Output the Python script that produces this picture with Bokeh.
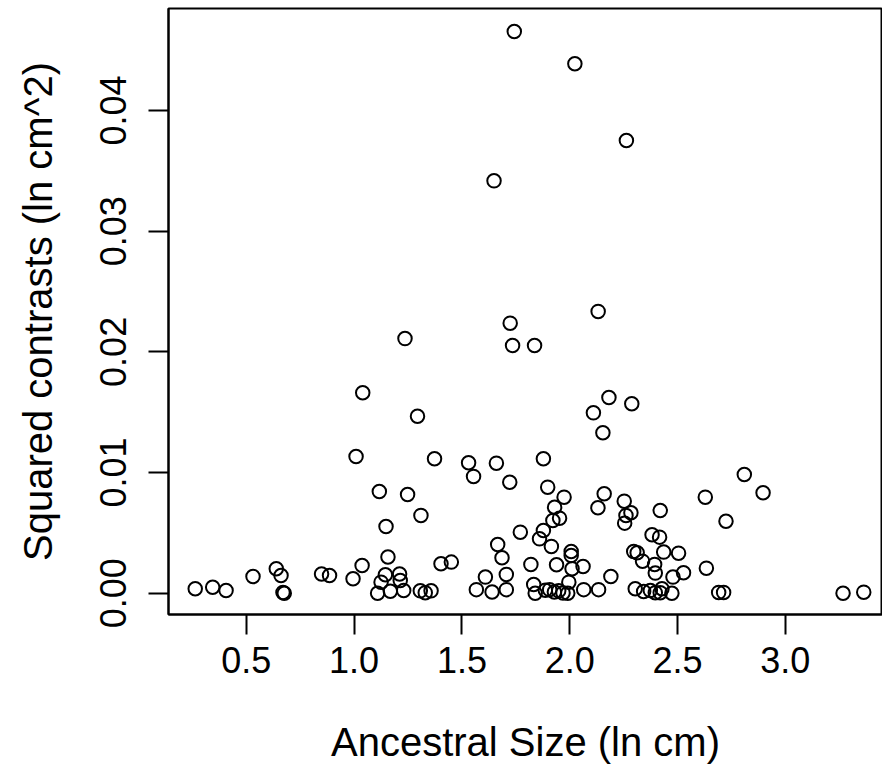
from bokeh.plotting import figure
from bokeh.models import Range1d, FixedTicker
from bokeh.embed import file_html
from bokeh.resources import INLINE

# Ancestral size (ln cm) and squared contrasts (ln cm^2)
ancestral_size = [
    1.743, 2.024, 2.263, 1.649, 2.132, 1.724, 1.236, 1.735, 1.837, 1.040,
    2.182, 2.288, 2.110, 1.294, 2.154,
    1.009, 1.373, 1.878, 1.531, 1.660, 1.554, 2.810, 1.722, 1.898, 1.117,
    2.897, 2.160, 1.248, 1.974, 2.629, 2.253, 1.930, 2.131, 2.420, 2.284,
    2.261, 1.310, 1.953, 1.922, 2.725, 2.255, 1.148, 1.878, 1.771, 2.382,
    2.417, 1.860, 1.666, 1.915, 2.297, 2.007, 2.436, 2.313, 2.505, 2.007,
    1.157, 1.686, 2.338, 1.451, 1.403, 2.394, 1.820, 1.939, 1.037, 2.062,
    2.634, 0.639, 2.011, 2.528, 2.397, 0.849, 1.211, 1.706, 1.145, 0.661,
    0.886, 0.531, 2.191, 2.479, 1.609, 0.995, 1.214, 1.125, 1.996, 1.833,
    0.344, 0.263,
    0.406, 0.670, 0.676, 1.109, 1.168, 1.230, 1.307, 1.330, 1.357, 1.567,
    1.640, 1.706, 1.840, 1.887, 1.907, 1.929, 1.949, 1.969, 1.991, 2.065,
    2.134, 2.304, 2.343, 2.374, 2.397, 2.420, 2.428, 2.474, 2.691, 2.714,
    3.268, 3.364,
]
squared_contrasts = [
    0.04654, 0.04387, 0.03751, 0.03417, 0.02335, 0.02238, 0.02110, 0.02053, 0.02053, 0.01661,
    0.01622, 0.01570, 0.01495, 0.01467, 0.01330,
    0.01133, 0.01114, 0.01114, 0.01081, 0.01078, 0.00968, 0.00984, 0.00920, 0.00879, 0.00843,
    0.00833, 0.00824, 0.00818, 0.00796, 0.00796, 0.00763, 0.00713, 0.00708, 0.00686, 0.00667,
    0.00645, 0.00645, 0.00622, 0.00603, 0.00597, 0.00581, 0.00553, 0.00520, 0.00506, 0.00485,
    0.00465, 0.00451, 0.00404, 0.00388, 0.00346, 0.00346, 0.00341, 0.00336, 0.00332, 0.00313,
    0.00300, 0.00294, 0.00266, 0.00258, 0.00244, 0.00239, 0.00239, 0.00236, 0.00230, 0.00222,
    0.00208, 0.00203, 0.00203, 0.00170, 0.00167, 0.00160, 0.00160, 0.00156, 0.00153, 0.00147,
    0.00147, 0.00139, 0.00139, 0.00134, 0.00134, 0.00120, 0.00106, 0.00092, 0.00092, 0.00073,
    0.00050, 0.00037,
    0.00023, 0.00007, 0.00000, 0.00000, 0.00017, 0.00023, 0.00020, 0.00005, 0.00020, 0.00030,
    0.00010, 0.00030, 0.00000, 0.00025, 0.00030, 0.00010, 0.00020, 0.00003, 0.00000, 0.00030,
    0.00030, 0.00037, 0.00015, 0.00023, 0.00005, 0.00005, 0.00037, 0.00000, 0.00007, 0.00007,
    0.00000, 0.00009,
]

x_ticks = [0.5, 1.0, 1.5, 2.0, 2.5, 3.0]
x_tick_labels = ["0.5", "1.0", "1.5", "2.0", "2.5", "3.0"]
y_ticks = [0.0, 0.01, 0.02, 0.03, 0.04]
y_tick_labels = ["0.00", "0.01", "0.02", "0.03", "0.04"]

FONT = "Liberation Sans"

p = figure(
    width=882, height=770, output_backend="svg", toolbar_location=None,
    x_range=Range1d(0.139, 3.451), y_range=Range1d(-0.00176, 0.04845),
    min_border_left=168, min_border_right=0, min_border_top=8, min_border_bottom=156,
    background_fill_color="white", border_fill_color="white",
)

p.scatter(ancestral_size, squared_contrasts, marker="circle", size=13.5,
          fill_color=None, line_color="black", line_width=2)

p.grid.visible = False
p.outline_line_color = "black"
p.outline_line_width = 2
p.outline_line_alpha = 1.0

p.xaxis.ticker = FixedTicker(ticks=x_ticks)
p.xaxis.major_label_overrides = {t: s for t, s in zip(x_ticks, x_tick_labels)}
p.yaxis.ticker = FixedTicker(ticks=y_ticks)
p.yaxis.major_label_overrides = {t: s for t, s in zip(y_ticks, y_tick_labels)}

for ax in (p.xaxis[0], p.yaxis[0]):
    ax.axis_line_color = "black"
    ax.axis_line_width = 2
    ax.major_tick_line_color = "black"
    ax.major_tick_line_width = 2
    ax.major_tick_out = 20
    ax.major_tick_in = 0
    ax.minor_tick_line_color = None
    ax.major_label_text_font = FONT
    ax.major_label_text_font_size = "36px"
    ax.major_label_text_color = "black"
    ax.axis_label_text_font = FONT
    ax.axis_label_text_font_size = "40px"
    ax.axis_label_text_font_style = "normal"
    ax.axis_label_text_color = "black"

p.xaxis.axis_label = "Ancestral Size (ln cm)"
p.yaxis.axis_label = "Squared contrasts (ln cm^2)"
p.xaxis.major_label_standoff = 12
p.xaxis.axis_label_standoff = 44
p.yaxis.major_label_orientation = "vertical"
p.yaxis.major_label_standoff = 22
p.yaxis.axis_label_standoff = 38

open("out.html", "w").write(file_html(p, INLINE))
